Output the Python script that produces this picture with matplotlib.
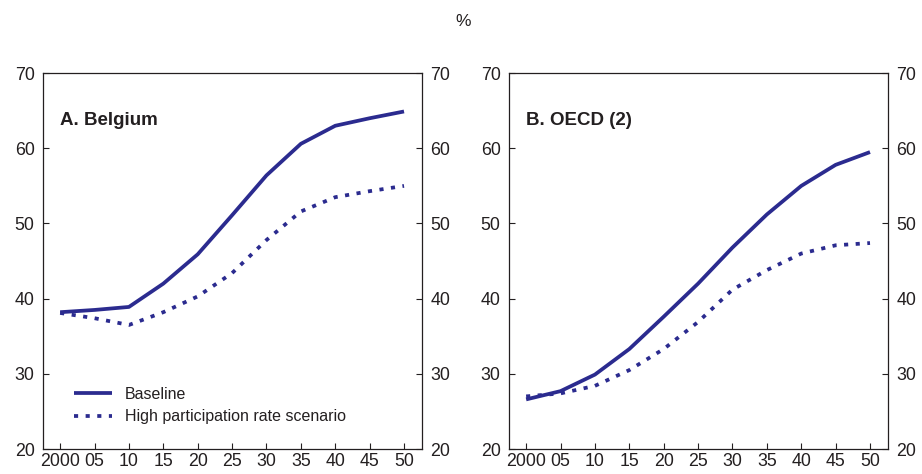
import numpy as np
import matplotlib.pyplot as plt

plt.rcParams['font.family'] = ['Liberation Sans', 'DejaVu Sans']

# Projection years and tick labels
years = [2000, 2005, 2010, 2015, 2020, 2025, 2030, 2035, 2040, 2045, 2050]
year_labels = ['2000', '05', '10', '15', '20', '25', '30', '35', '40', '45', '50']

# A. Belgium
bel_baseline = [38.2, 38.5, 38.9, 42.0, 45.9, 51.1, 56.4, 60.6, 63.0, 64.0, 64.9]
bel_high = [38.1, 37.4, 36.5, 38.2, 40.3, 43.4, 47.8, 51.6, 53.5, 54.3, 55.0]

# B. OECD (2)
oecd_baseline = [26.6, 27.7, 29.9, 33.3, 37.6, 42.0, 46.8, 51.2, 55.0, 57.8, 59.5]
oecd_high = [27.0, 27.4, 28.4, 30.5, 33.3, 36.9, 41.2, 43.8, 46.0, 47.1, 47.4]

navy = '#2b2b8f'
ink = '#231f20'

fig = plt.figure(figsize=(9.22, 4.74), dpi=100)
fig.text(0.502, 0.955, '%', ha='center', va='center', fontsize=12.5, color=ink)

panels = [
    (0.0466, 'A. Belgium', bel_baseline, bel_high),
    (0.552, 'B. OECD (2)', oecd_baseline, oecd_high),
]

for left, title, base, high in panels:
    ax = fig.add_axes([left, 0.0527, 0.411, 0.793])
    ax.plot(years, base, color=navy, lw=2.7, solid_capstyle='butt',
            label='Baseline')
    ax.plot(years, high, color=navy, lw=2.7, linestyle=(0, (1.1, 2.0)),
            dash_capstyle='butt', label='High participation rate scenario')
    ax.set_xlim(1997.5, 2052.6)
    ax.set_ylim(20, 70)
    ax.set_xticks(years)
    ax.set_xticklabels(year_labels)
    ax.set_yticks(np.arange(20, 71, 10))
    ax.tick_params(direction='in', length=4, width=0.8, color=ink,
                   labelsize=12.8, labelcolor=ink, pad=3)
    ax.tick_params(axis='y', right=True, labelright=True, pad=6)
    for s in ax.spines.values():
        s.set_color(ink)
        s.set_linewidth(0.9)
    ax.text(0.046, 0.875, title, transform=ax.transAxes, fontsize=13.5,
            fontweight='bold', color=ink, va='center')
    if left < 0.5:
        ax.legend(loc='lower left', bbox_to_anchor=(0.06, 0.045), frameon=False,
                  fontsize=11.5, handlelength=2.4, handletextpad=0.8,
                  labelspacing=0.45, borderpad=0, labelcolor=ink)

fig.savefig('out.png', dpi=100)
